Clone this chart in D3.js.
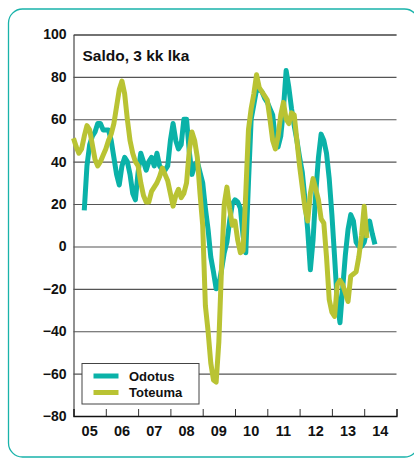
<!DOCTYPE html>
<html>
<head>
<meta charset="utf-8">
<script src="https://cdn.jsdelivr.net/npm/d3@7"></script>
<style>
  body { margin: 0; background: #fff; }
  svg { display: block; font-family: "Liberation Sans", Arial, sans-serif; font-weight: bold; }
</style>
</head>
<body>
<div id="chart"></div>
<script>
// monthly values, 3 month moving average
const odotusStart = 2005 + 4 / 12;   // May 2005
const odotus = [
  17, 38, 48, 52, 54, 58, 58, 55, 55, 55, 50, 42, 34, 29, 38, 42, 40, 34, 25, 22,
  35, 44, 40, 36, 40, 42, 38, 44, 38, 36, 36, 38, 50, 58, 50, 46, 48, 60, 60, 45,
  34, 38, 40, 35, 30, 18, 8, -5, -12, -20, -18, -11, -3, 2, 12, 20, 22, 21, 18, 5,
  -3, 30, 60, 67, 74, 74, 73, 70, 68, 65, 62, 50, 47, 52, 65, 83, 75, 65, 57, 50,
  42, 35, 22, 8, -11, 3, 25, 42, 53, 50, 44, 32, 15, -5, -26, -36, -20, -4, 8, 15,
  12, 2, 0, 0, 2, 8, 12, 6, 1
];
const toteumaStart = 2005;           // Jan 2005
const toteuma = [
  51, 47, 44, 46, 52, 57, 55, 48, 41, 38, 40, 43, 46, 50, 53, 58, 66, 74, 78, 72,
  60, 50, 44, 40, 38, 30, 24, 21, 21, 26, 28, 30, 33, 37, 34, 31, 25, 19, 24, 27,
  23, 25, 30, 45, 54, 50, 42, 25, 10, -28, -40, -55, -63, -64, -45, -10, 20, 28, 18, 10,
  12, 3, -3, -2, 25, 55, 65, 72, 81, 75, 73, 71, 69, 60, 50, 46, 52, 62, 68, 60,
  58, 63, 62, 50, 38, 28, 18, 12, 25, 32, 27, 22, 13, 11, -5, -25, -31, -33, -18, -16,
  -18, -22, -26, -14, -13, -12, -5, 5, 19, 4
];
const yTicks = [-80, -60, -40, -20, 0, 20, 40, 60, 80, 100];
const yearTicks = [2005, 2006, 2007, 2008, 2009, 2010, 2011, 2012, 2013, 2014, 2015];
const yearLabels = ["05", "06", "07", "08", "09", "10", "11", "12", "13", "14"];
const seriesNames = ["Odotus", "Toteuma"];
const colors = ["#0ab2a8", "#b9c333"];
const title = "Saldo, 3 kk lka";

const W = 414, H = 461;
const margin = { left: 73.5, right: 17.5, top: 34.5, bottom: 45 };
const width = W - margin.left - margin.right;
const height = H - margin.top - margin.bottom;

const svg = d3.select("#chart").append("svg")
  .attr("width", W)
  .attr("height", H);

// rounded frame
svg.append("rect")
  .attr("x", 8.5).attr("y", 9)
  .attr("width", 410).attr("height", 448)
  .attr("rx", 14)
  .attr("fill", "none")
  .attr("stroke", "#19b3aa")
  .attr("stroke-width", 1.3);

const g = svg.append("g")
  .attr("transform", "translate(" + margin.left + "," + margin.top + ")");

const x = d3.scaleLinear().domain([2005, 2015]).range([0, width]);
const y = d3.scaleLinear().domain([-80, 100]).range([height, 0]);

// Y axis with gridlines
const yAxis = g.append("g")
  .call(d3.axisLeft(y).tickValues(yTicks).tickSize(-width).tickPadding(7));
yAxis.select(".domain").attr("stroke", "#222");
yAxis.selectAll(".tick line").attr("stroke", "#555").attr("stroke-width", 1.1);
yAxis.selectAll("text")
  .attr("fill", "#111")
  .style("font-size", "14px")
  .style("font-weight", "bold");

// X axis, ticks pointing inward
const xAxis = g.append("g")
  .attr("transform", "translate(0," + height + ")")
  .call(d3.axisBottom(x).tickValues(yearTicks).tickSize(-7).tickFormat(""));
xAxis.select(".domain").attr("stroke", "#111").attr("stroke-width", 1.3);
xAxis.selectAll(".tick line").attr("stroke", "#333");

g.selectAll(".year-label")
  .data(yearLabels)
  .enter()
  .append("text")
  .attr("class", "year-label")
  .attr("x", (d, i) => x(yearTicks[i] + 0.5))
  .attr("y", height + 20)
  .attr("text-anchor", "middle")
  .attr("fill", "#111")
  .style("font-size", "14.5px")
  .text(d => d);

// series
const toPoints = (vals, start) => vals.map((v, i) => ({ t: start + i / 12, v: v }));
const line = d3.line().x(d => x(d.t)).y(d => y(d.v));

[[odotus, odotusStart], [toteuma, toteumaStart]].forEach((s, k) => {
  g.append("path")
    .datum(toPoints(s[0], s[1]))
    .attr("d", line)
    .attr("fill", "none")
    .attr("stroke", colors[k])
    .attr("stroke-width", 5)
    .attr("stroke-linejoin", "round");
});

// title
g.append("text")
  .attr("x", 9)
  .attr("y", 26)
  .attr("fill", "#111")
  .style("font-size", "15.5px")
  .text(title);

// legend
const lg = svg.append("g").attr("transform", "translate(82,363.5)");
lg.append("rect")
  .attr("width", 117).attr("height", 40.5)
  .attr("fill", "#fff")
  .attr("stroke", "#444");
seriesNames.forEach((name, i) => {
  lg.append("line")
    .attr("x1", 11.5).attr("x2", 36.5)
    .attr("y1", 12.5 + i * 16.5).attr("y2", 12.5 + i * 16.5)
    .attr("stroke", colors[i])
    .attr("stroke-width", 5);
  lg.append("text")
    .attr("x", 47)
    .attr("y", 17 + i * 16.5)
    .attr("fill", "#111")
    .style("font-size", "13px")
    .text(name);
});
</script>
</body>
</html>
